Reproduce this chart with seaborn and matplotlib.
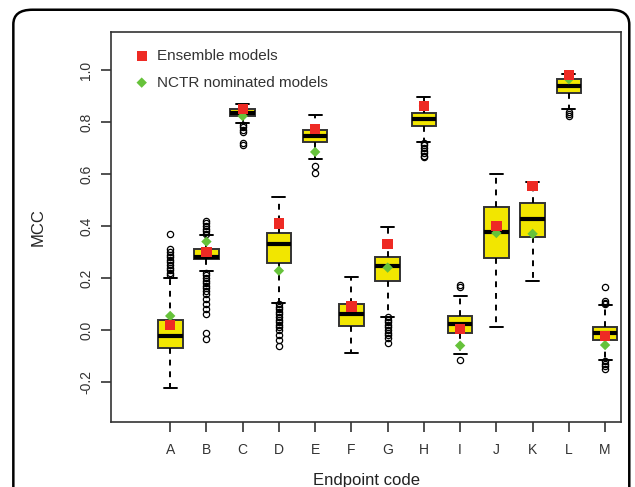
import numpy as np
import pandas as pd
import seaborn as sns
import matplotlib.pyplot as plt
from matplotlib.patches import FancyBboxPatch

codes = ["A", "B", "C", "D", "E", "F", "G", "H", "I", "J", "K", "L", "M"]

# box statistics
q1 = [-0.069, 0.273, 0.823, 0.258, 0.723, 0.015, 0.19, 0.785, -0.012, 0.277, 0.358, 0.91, -0.038]
med = [-0.023, 0.282, 0.835, 0.33, 0.746, 0.06, 0.245, 0.81, 0.023, 0.377, 0.427, 0.94, -0.012]
q3 = [0.038, 0.313, 0.85, 0.373, 0.77, 0.1, 0.28, 0.834, 0.054, 0.473, 0.488, 0.965, 0.013]
whis_lo = [-0.223, 0.227, 0.795, 0.103, 0.657, -0.09, 0.05, 0.725, -0.092, 0.01, 0.19, 0.85, -0.115]
whis_hi = [0.2, 0.365, 0.87, 0.51, 0.827, 0.203, 0.397, 0.896, 0.13, 0.6, 0.57, 0.985, 0.095]
outliers = [
    [0.37, 0.31, 0.30, 0.29, 0.28, 0.27, 0.26, 0.25, 0.24, 0.23, 0.22, 0.21],
    [0.42, 0.41, 0.40, 0.39, 0.38, 0.37, 0.22, 0.21, 0.20, 0.19, 0.18, 0.17, 0.16, 0.15, 0.14,
     0.12, 0.10, 0.08, 0.06, -0.01, -0.035],
    [0.79, 0.78, 0.77, 0.76, 0.72, 0.71],
    [0.10, 0.09, 0.08, 0.07, 0.06, 0.05, 0.04, 0.03, 0.02, 0.01, 0.0, -0.02, -0.04, -0.06],
    [0.63, 0.605],
    [],
    [0.05, 0.04, 0.03, 0.02, 0.01, 0.0, -0.01, -0.02, -0.03, -0.05],
    [0.72, 0.71, 0.70, 0.69, 0.68, 0.67, 0.665],
    [0.175, 0.165, -0.115],
    [],
    [],
    [0.84, 0.83, 0.825],
    [0.165, 0.11, 0.105, 0.10, -0.12, -0.13, -0.14, -0.15],
]
ensemble = [0.02, 0.30, 0.85, 0.41, 0.773, 0.09, 0.33, 0.862, 0.004, 0.40, 0.553, 0.98, -0.023]
nctr = [0.054, 0.34, 0.823, 0.228, 0.685, 0.09, 0.24, 0.862, -0.06, 0.373, 0.37, 0.965, -0.058]

pos = np.arange(1, len(codes) + 1)

sns.set_theme(style="white")
plt.rcParams["font.family"] = ["Liberation Sans", "DejaVu Sans"]

fig = plt.figure(figsize=(6.35, 4.87), dpi=100)
ax = fig.add_axes([0.175, 0.1335, 0.803, 0.8005])

stats = []
for i, c in enumerate(codes):
    stats.append(dict(label=c, q1=q1[i], med=med[i], q3=q3[i],
                      whislo=whis_lo[i], whishi=whis_hi[i], fliers=outliers[i]))

ax.bxp(stats, positions=pos, widths=0.68, patch_artist=True,
       boxprops=dict(facecolor="#f2e600", edgecolor="#333333", linewidth=1.4),
       medianprops=dict(color="black", linewidth=3),
       whiskerprops=dict(color="black", linestyle=(0, (3, 3)), linewidth=1.4),
       capprops=dict(color="black", linewidth=1.4),
       capwidths=0.36,
       flierprops=dict(marker="o", markerfacecolor="none", markeredgecolor="black",
                       markersize=4.5, markeredgewidth=0.9))

pts = pd.DataFrame({"x": pos, "ens": ensemble, "nctr": nctr})
sns.scatterplot(data=pts, x="x", y="ens", marker="s", s=55, color="#ee2a24",
                edgecolor="none", ax=ax, zorder=6, label="Ensemble models")
sns.scatterplot(data=pts, x="x", y="nctr", marker="D", s=28, color="#66c23a",
                edgecolor="none", ax=ax, zorder=5, label="NCTR nominated models")

ax.set_xlim(-0.63, 13.44)
ax.set_ylim(-0.354, 1.146)
ax.set_xticks(pos)
ax.set_xticklabels(codes)
ax.set_yticks([-0.2, 0.0, 0.2, 0.4, 0.6, 0.8, 1.0])
ax.set_yticklabels(["-0.2", "0.0", "0.2", "0.4", "0.6", "0.8", "1.0"], rotation=90, va="center")
ax.tick_params(axis="both", direction="out", length=7, width=1.2, color="#333333",
               labelsize=10, labelcolor="#333333", left=True, bottom=True)
ax.tick_params(axis="x", pad=8)
ax.tick_params(axis="y", pad=6)
for sp in ax.spines.values():
    sp.set_color("#333333")
    sp.set_linewidth(1.2)

ax.set_xlabel("Endpoint code", fontsize=12, color="#222222", labelpad=12)
ax.set_ylabel("MCC", fontsize=12, color="#222222", labelpad=24)

ax.legend(loc="upper left", bbox_to_anchor=(0.03, 0.98), frameon=False, fontsize=11,
          handlelength=0.8, handletextpad=0.6, labelspacing=0.82, borderaxespad=0.2,
          labelcolor="#333333")

border = FancyBboxPatch((0.021, -0.05), 0.97, 1.03, boxstyle="round,pad=0,rounding_size=0.03",
                        transform=fig.transFigure, fill=False, edgecolor="black",
                        linewidth=1.8, clip_on=False)
fig.patches.append(border)

fig.savefig("out.png", dpi=100)
